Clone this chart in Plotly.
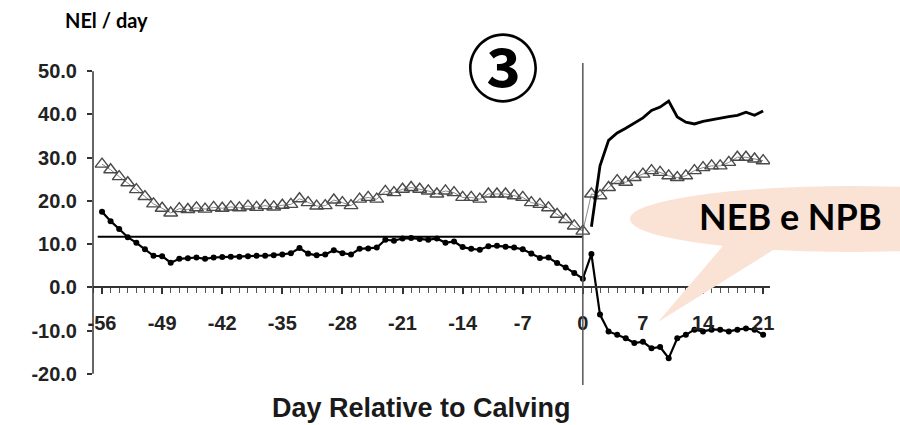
import plotly.graph_objects as go

# ---------------- data ----------------
days = list(range(-56, 22))

nei_triangles = [
    28.5, 27.2, 25.6, 24.2, 22.6, 21.0, 19.3, 18.3, 17.2, 18.2,   # -56..-47
    18.0, 18.4, 18.1, 18.5, 18.3, 18.6, 18.4, 18.8, 18.5, 18.9,   # -46..-37
    18.6, 19.0, 19.2, 20.5, 19.6, 18.8, 18.9, 20.2, 19.6, 18.9,   # -36..-27
    20.4, 20.8, 20.4, 22.2, 21.9, 22.7, 23.1, 22.7, 22.3, 21.6,   # -26..-17
    22.3, 21.9, 20.8, 20.8, 20.4, 21.6, 21.6, 21.6, 21.2, 20.8,   # -16..-7
    19.6, 19.2, 18.4, 16.9, 15.7, 14.2, 13.0,                     # -6..0
    21.6, 21.2, 23.1, 24.7, 24.3, 25.4, 26.2, 27.0, 26.6, 25.8,   # 1..10
    25.4, 25.8, 27.0, 27.7, 28.1, 28.1, 28.9, 30.1, 30.1, 29.7,   # 11..20
    29.3,                                                         # 21
]

neb_circles = [
    17.5, 15.3, 13.5, 11.6, 10.3, 8.8, 7.3, 7.2, 5.7, 6.6,        # -56..-47
    6.7, 6.9, 6.6, 6.9, 7.0, 7.1, 7.1, 7.2, 7.3, 7.3,             # -46..-37
    7.4, 7.6, 7.9, 9.1, 7.8, 7.4, 7.6, 8.6, 7.9, 7.6,             # -36..-27
    8.9, 9.0, 9.2, 11.0, 10.8, 11.3, 11.4, 11.2, 11.0, 11.3,      # -26..-17
    10.3, 10.6, 9.3, 8.9, 8.7, 9.5, 9.6, 9.4, 9.2, 8.8,           # -16..-7
    7.8, 6.8, 6.9, 5.6, 4.6, 3.3, 2.0,                            # -6..0
    7.7, -6.3, -10.2, -11.0, -11.8, -12.9, -12.6, -14.1, -13.8, -16.4,  # 1..10
    -11.8, -11.0, -9.8, -10.2, -9.8, -9.8, -10.2, -9.8, -9.5, -9.8,     # 11..20
    -11.0,                                                              # 21
]

post_days = list(range(1, 22))
post_intake = [
    14.0, 28.1, 34.0, 35.7, 36.8, 38.0, 39.2, 40.9, 41.7, 43.1,
    39.4, 38.2, 37.8, 38.4, 38.8, 39.2, 39.5, 39.8, 40.5, 39.8,
    40.8,
]

ref_level = 11.7
ref_days = [-56.5, 0]

x_tick_vals = [-56, -49, -42, -35, -28, -21, -14, -7, 0, 7, 14, 21]
x_tick_text = [str(v) for v in x_tick_vals]
y_tick_vals = [-20, -10, 0, 10, 20, 30, 40, 50]
y_tick_text = ["%.1f" % v for v in y_tick_vals]

# ---------------- geometry helpers ----------------
W, H = 900, 425
L, R, T, B = 93, 130, 63, 40
PW, PH = W - L - R, H - T - B


def px(xp):
    return (xp - L) / PW


def py(yp):
    return (H - B - yp) / PH


Y_RANGE = [-22.6, 51.9]
X_RANGE = [-57.05, 21.8]

AX = "#333333"
TICKFONT = dict(family="Liberation Sans, Arial, sans-serif", size=20,
                color="#222222", weight="bold")

fig = go.Figure()

fig.add_trace(go.Scatter(
    x=days, y=nei_triangles, mode="lines+markers",
    line=dict(color="#8a8a8a", width=1),
    marker=dict(symbol="triangle-up-open", size=12, color="#4a4a4a",
                line=dict(width=1.4)),
    showlegend=False, hoverinfo="skip"))

fig.add_trace(go.Scatter(
    x=days, y=neb_circles, mode="lines+markers",
    line=dict(color="black", width=2.2),
    marker=dict(symbol="circle", size=6, color="black"),
    showlegend=False, hoverinfo="skip"))

fig.add_trace(go.Scatter(
    x=post_days, y=post_intake, mode="lines",
    line=dict(color="black", width=2.8),
    showlegend=False, hoverinfo="skip"))

fig.add_trace(go.Scatter(
    x=ref_days, y=[ref_level, ref_level], mode="lines",
    line=dict(color="black", width=2),
    showlegend=False, hoverinfo="skip"))

# vertical calving line
fig.add_shape(type="line", xref="x", yref="paper", x0=0, x1=0, y0=0, y1=1,
              line=dict(color="#555555", width=1.5))
# y axis line from -20 to 50
fig.add_shape(type="line", xref="paper", yref="y", x0=0, x1=0,
              y0=y_tick_vals[0], y1=y_tick_vals[-1],
              line=dict(color=AX, width=1.5))

# speech bubble
BUB = "#FAE2D4"
fig.add_shape(type="circle", xref="paper", yref="paper",
              x0=px(630), x1=px(1070), y0=py(252), y1=py(186),
              fillcolor=BUB, line=dict(width=0), layer="above")
tail = "M %f,%f L %f,%f L %f,%f Z" % (px(728), py(240), px(658), py(322),
                                      px(789), py(240))
fig.add_shape(type="path", xref="paper", yref="paper", path=tail,
              fillcolor=BUB, line=dict(width=0), layer="above")

fig.add_annotation(text="NEB e NPB", xref="paper", yref="paper",
                   x=px(790), y=py(216), showarrow=False,
                   xanchor="center", yanchor="middle",
                   font=dict(family="Lato, sans-serif", size=36,
                             color="black", weight="bold"))

fig.add_annotation(text="③", xref="paper", yref="paper",
                   x=px(503), y=py(64), showarrow=False,
                   xanchor="center", yanchor="middle",
                   font=dict(family="Noto Sans CJK JP, DejaVu Sans", size=72,
                             color="black", weight="bold"))

fig.add_annotation(text="NEl / day", xref="paper", yref="paper",
                   x=px(106), y=py(20), showarrow=False,
                   xanchor="center", yanchor="middle",
                   font=dict(family="Lato, sans-serif", size=20,
                             color="black", weight="bold"))

fig.add_annotation(text="Day Relative to Calving", xref="paper", yref="paper",
                   x=px(421), y=py(408), showarrow=False,
                   xanchor="center", yanchor="middle",
                   font=dict(family="Liberation Sans, Arial, sans-serif",
                             size=27, color="#1a1a1a", weight="bold"))

zero_pos = (0 - Y_RANGE[0]) / (Y_RANGE[1] - Y_RANGE[0])

fig.update_layout(
    width=W, height=H,
    margin=dict(l=L, r=R, t=T, b=B, pad=0),
    paper_bgcolor="white", plot_bgcolor="white",
    xaxis=dict(range=X_RANGE, anchor="free", position=zero_pos,
               showgrid=False, zeroline=False,
               showline=True, linecolor=AX, linewidth=1.5,
               ticks="outside", ticklen=6, tickwidth=1.5, tickcolor=AX,
               tickvals=x_tick_vals, ticktext=x_tick_text,
               ticklabelstandoff=12,
               minor=dict(ticks="outside", ticklen=5, tickwidth=1.2,
                          tickcolor="#555555", dtick=1, tick0=0,
                          showgrid=False),
               tickfont=TICKFONT),
    yaxis=dict(range=Y_RANGE, showgrid=False, zeroline=False,
               showline=False,
               ticks="outside", ticklen=5, tickwidth=1.5, tickcolor=AX,
               tickvals=y_tick_vals, ticktext=y_tick_text,
               ticklabelstandoff=6,
               tickfont=TICKFONT),
)

fig.write_html("out.html")
